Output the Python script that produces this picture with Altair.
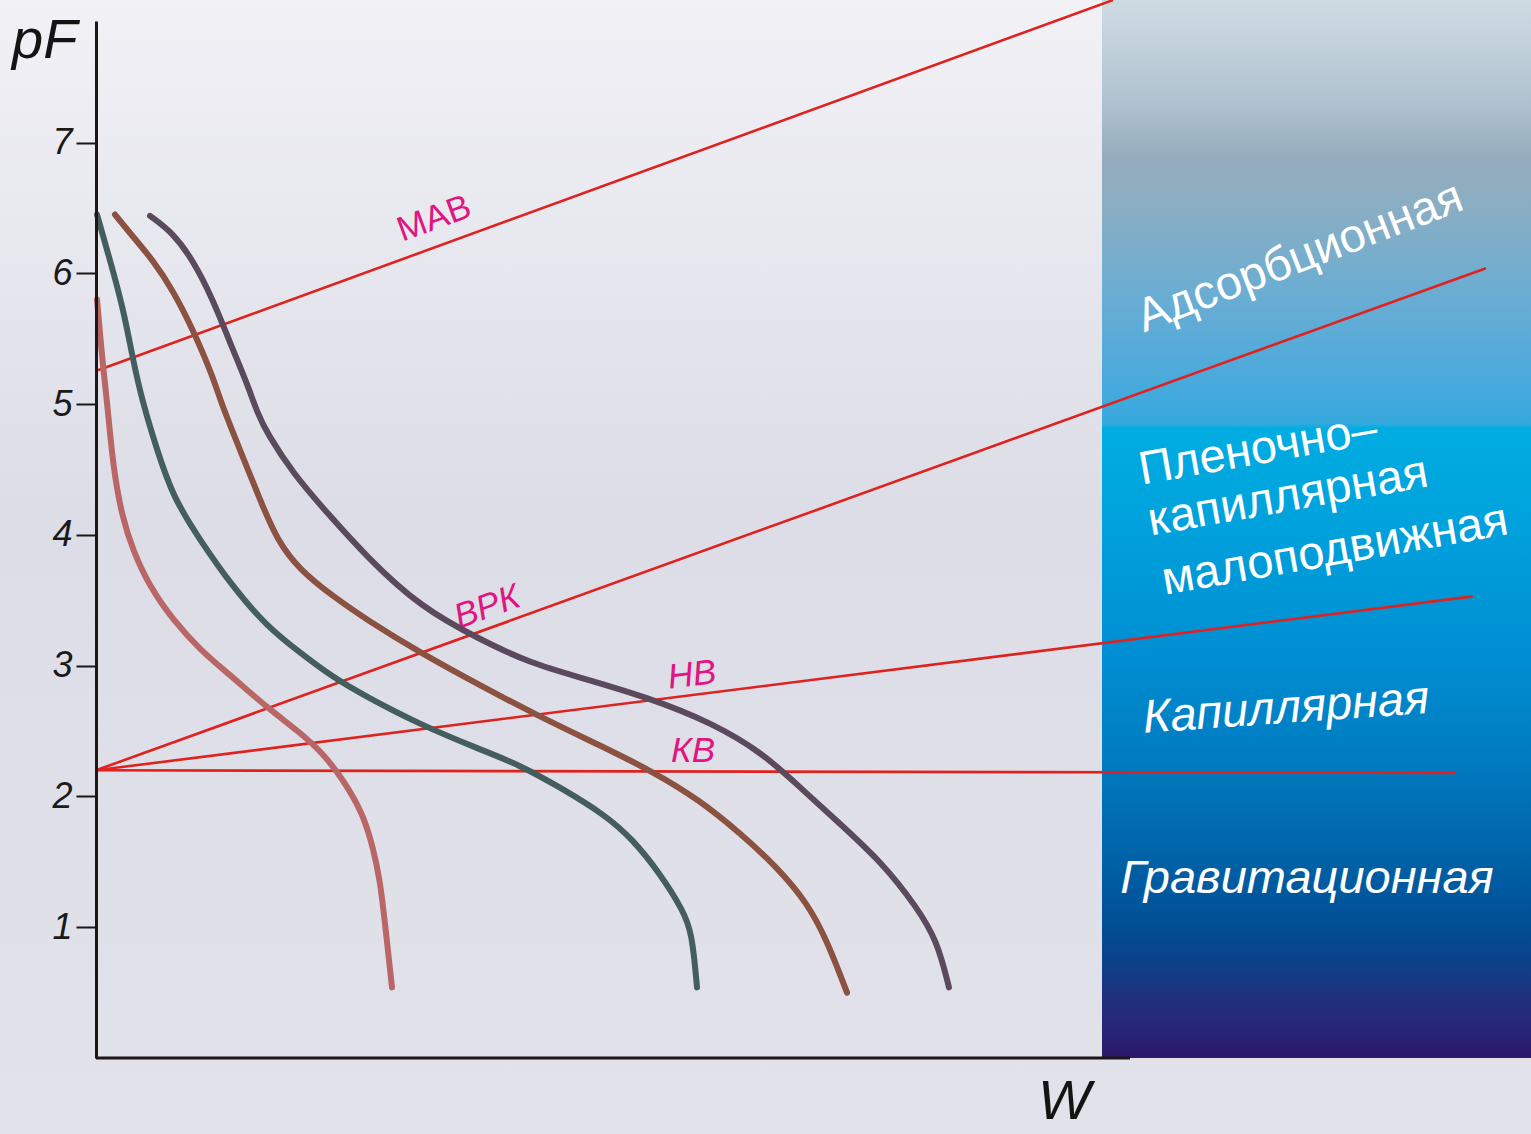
import altair as alt
import pandas as pd

# ---- moisture retention curves (W arbitrary units, pF) ----
W1 = [1, 7, 11, 17, 26, 37, 54, 77, 104, 137, 171, 204, 227, 247, 267, 277, 284, 289, 296]
P1 = [5.80, 5.28, 5.03, 4.52, 4.14, 3.88, 3.60, 3.35, 3.12, 2.91, 2.68, 2.49, 2.33, 2.13, 1.87, 1.61, 1.36, 1.03, 0.54]
W2 = [1, 14, 27, 37, 46, 61, 77, 104, 137, 171, 204, 237, 271, 324, 384, 424, 464, 509, 537, 564, 587, 596, 601]
P2 = [6.45, 6.10, 5.74, 5.34, 5.03, 4.65, 4.29, 3.96, 3.60, 3.30, 3.10, 2.91, 2.76, 2.55, 2.36, 2.24, 2.07, 1.86, 1.67, 1.41, 1.13, 0.96, 0.54]
W3 = [19, 37, 57, 77, 97, 117, 126, 144, 164, 181, 204, 237, 271, 324, 384, 441, 504, 557, 604, 644, 681, 711, 731, 751]
P3 = [6.45, 6.28, 6.10, 5.87, 5.57, 5.21, 4.99, 4.65, 4.27, 3.96, 3.73, 3.53, 3.35, 3.10, 2.85, 2.62, 2.39, 2.19, 1.97, 1.72, 1.46, 1.19, 0.90, 0.50]
W4 = [54, 77, 97, 117, 134, 151, 162, 171, 197, 231, 271, 324, 384, 434, 484, 551, 617, 667, 704, 737, 787, 821, 841, 853]
P4 = [6.44, 6.31, 6.10, 5.80, 5.47, 5.16, 4.92, 4.78, 4.47, 4.17, 3.83, 3.45, 3.20, 3.02, 2.91, 2.76, 2.56, 2.33, 2.07, 1.84, 1.49, 1.15, 0.90, 0.54]
CURVE_IDS = ["c1", "c2", "c3", "c4"]
CURVE_COLORS = ["#b96666", "#445d5d", "#8c5241", "#5b4a5d"]

# ---- characteristic moisture lines ----
LINE_NAMES = ["МАВ", "ВРК", "НВ", "КВ"]
LINE_W0 = [2, 0, 0, 0]
LINE_P0 = [5.26, 2.20, 2.20, 2.20]
LINE_W1 = [1017, 1390, 1377, 1359]
LINE_P1 = [8.09, 6.04, 3.53, 2.18]
LABEL_W = [338, 391, 596, 597]
LABEL_P = [6.42, 3.45, 2.93, 2.35]
LABEL_ANGLE = [340, 340, 353, 0]
LABEL_ITALIC = [False, True, True, True]

# ---- water zones ----
ZONE_TEXT = ["Адсорбционная", "Пленочно–", "капиллярная", "малоподвижная", "Капиллярная", "Гравитационная"]
ZONE_W = [1204, 1162, 1192, 1239, 1190, 1211]
ZONE_P = [6.12, 4.65, 4.29, 3.88, 2.67, 1.37]
ZONE_ANGLE = [339, 350, 350, 350, 356, 0]
ZONE_ITALIC = [False, False, False, False, True, True]

Y_TICKS = [1, 2, 3, 4, 5, 6, 7]

W_MIN, W_MAX = -96, 1435
P_MIN, P_MAX = -0.58, 8.09
BAND_W0 = 1006
AXIS_W_END = 1034

rows = []
for cid, ws, ps in zip(CURVE_IDS, [W1, W2, W3, W4], [P1, P2, P3, P4]):
    for i, (w, p) in enumerate(zip(ws, ps)):
        rows.append({"curve": cid, "W": w, "pF": p, "i": i})
curves_df = pd.DataFrame(rows)

lines_df = pd.DataFrame({"name": LINE_NAMES, "w0": LINE_W0, "p0": LINE_P0, "w1": LINE_W1, "p1": LINE_P1})
labels_df = pd.DataFrame({"name": LINE_NAMES, "W": LABEL_W, "pF": LABEL_P, "angle": LABEL_ANGLE, "it": LABEL_ITALIC})
zones_df = pd.DataFrame({"t": ZONE_TEXT, "W": ZONE_W, "pF": ZONE_P, "angle": ZONE_ANGLE, "it": ZONE_ITALIC})

xs = alt.Scale(domain=[0, W_MAX], nice=False, zero=False)
ys = alt.Scale(domain=[0, 7.93], nice=False, zero=False)

bg_grad = {"gradient": "linear", "x1": 0, "y1": 0, "x2": 0, "y2": 1,
           "stops": [{"offset": 0, "color": "#f1f1f6"},
                     {"offset": 0.45, "color": "#dddde7"},
                     {"offset": 1, "color": "#e2e2eb"}]}
band_grad = {"gradient": "linear", "x1": 0, "y1": 0, "x2": 0, "y2": 1,
             "stops": [{"offset": 0.0, "color": "#cfdbe3"},
                       {"offset": 0.05, "color": "#bfcfda"},
                       {"offset": 0.10, "color": "#aec1ce"},
                       {"offset": 0.15, "color": "#96acbc"},
                       {"offset": 0.20, "color": "#88aec4"},
                       {"offset": 0.28, "color": "#6aadd3"},
                       {"offset": 0.35, "color": "#4eaadb"},
                       {"offset": 0.40, "color": "#36a9de"},
                       {"offset": 0.405, "color": "#00ade2"},
                       {"offset": 0.50, "color": "#00a1dc"},
                       {"offset": 0.62, "color": "#008ed2"},
                       {"offset": 0.72, "color": "#007bc0"},
                       {"offset": 0.80, "color": "#0066aa"},
                       {"offset": 0.87, "color": "#005096"},
                       {"offset": 0.91, "color": "#0b4189"},
                       {"offset": 0.94, "color": "#1f327e"},
                       {"offset": 0.97, "color": "#272676"},
                       {"offset": 1.0, "color": "#2c176c"}]}

bg = alt.Chart(pd.DataFrame({"a": [W_MIN], "b": [W_MAX], "c": [P_MIN], "d": [P_MAX]})).mark_rect(
    color=bg_grad, clip=False).encode(
    x=alt.X("a:Q", scale=xs, axis=None), x2="b:Q",
    y=alt.Y("c:Q", scale=ys, axis=alt.Axis(
        values=Y_TICKS, format="d", title=None, grid=False, domainColor="#1c1616", domainWidth=3,
        tickColor="#1c1616", tickWidth=2, tickSize=20, labelFont="Liberation Sans",
        labelFontSize=36, labelFontStyle="italic", labelColor="#1a1a1a", labelPadding=4,
        zindex=1)),
    y2="d:Q")

band = alt.Chart(pd.DataFrame({"a": [BAND_W0], "b": [W_MAX], "c": [0], "d": [P_MAX]})).mark_rect(
    color=band_grad, clip=False).encode(
    x=alt.X("a:Q", scale=xs), x2="b:Q", y=alt.Y("c:Q", scale=ys), y2="d:Q")

red = alt.Chart(lines_df).mark_rule(color="#e0221e", strokeWidth=2.6, clip=False).encode(
    x=alt.X("w0:Q", scale=xs), x2="w1:Q", y=alt.Y("p0:Q", scale=ys), y2="p1:Q")


def text_layer(df, flag, **kw):
    style = "italic" if flag else "normal"
    return alt.Chart(df[df["it"] == flag]).mark_text(fontStyle=style, align="center",
                                                     baseline="middle", clip=False, **kw).encode(
        x=alt.X("W:Q", scale=xs), y=alt.Y("pF:Q", scale=ys),
        text=alt.Text(df.columns[0] + ":N"),
        angle=alt.Angle("angle:Q", scale=None))


lab_kw = dict(color="#e0157f", font="Liberation Sans", fontSize=35)
zone_kw = dict(color="white", font="Liberation Sans", fontSize=47)

line_labels = [text_layer(labels_df, f, **lab_kw) for f in (False, True)]
zone_labels = [text_layer(zones_df, f, **zone_kw) for f in (False, True)]

curves = alt.Chart(curves_df).mark_line(strokeWidth=6, strokeCap="round", interpolate="basis").encode(
    x=alt.X("W:Q", scale=xs), y=alt.Y("pF:Q", scale=ys), order="i:Q",
    color=alt.Color("curve:N", scale=alt.Scale(domain=CURVE_IDS, range=CURVE_COLORS), legend=None))

xaxis = alt.Chart(pd.DataFrame({"a": [0], "b": [AXIS_W_END], "c": [0]})).mark_rule(
    color="#1c1616", strokeWidth=3, clip=False).encode(
    x=alt.X("a:Q", scale=xs), x2="b:Q", y=alt.Y("c:Q", scale=ys))

titles = alt.Chart(pd.DataFrame({"t": ["pF", "W"], "W": [-84, 942], "pF": [7.65, -0.47], "s": [56, 56]})).mark_text(
    color="#141414", font="Liberation Sans", fontStyle="italic", align="left", baseline="alphabetic",
    clip=False).encode(
    x=alt.X("W:Q", scale=xs), y=alt.Y("pF:Q", scale=ys), text="t:N",
    size=alt.Size("s:Q", scale=None))

chart = alt.layer(bg, band, red, *line_labels, curves, *zone_labels, xaxis, titles).properties(
    width=1435, height=1037,
    autosize=alt.AutoSizeParams(type="none"),
    padding={"left": 96, "top": 21, "right": 0, "bottom": 76},
    background="#e4e4ec",
).configure_view(stroke=None)

chart.save("out.html", embed_options={"renderer": "svg", "actions": False})
